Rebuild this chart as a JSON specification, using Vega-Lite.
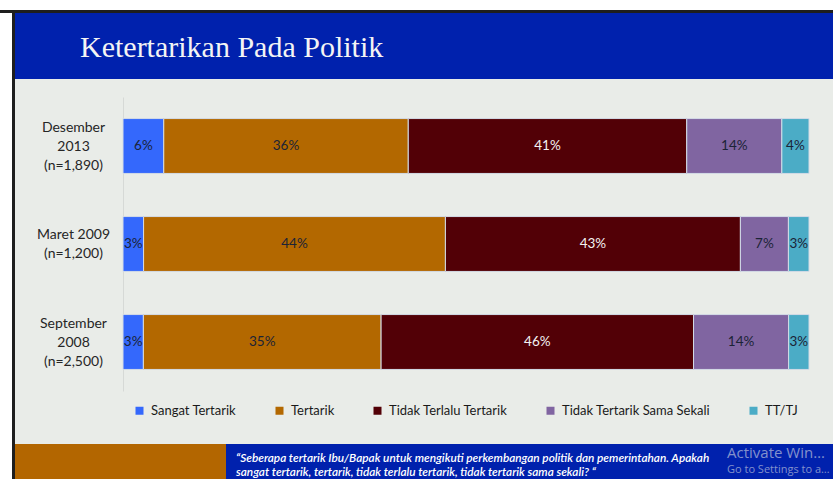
{
  "$schema": "https://vega.github.io/schema/vega-lite/v6.json",
  "background": "#E9ECE8",
  "padding": 0,
  "spacing": 0,
  "data": {"values": [{}]},
  "config": {
    "view": {"stroke": null},
    "concat": {"spacing": 0},
    "font": "Lato",
    "point": {"size": 0, "opacity": 0, "strokeWidth": 0}
  },
  "resolve": {"legend": {"color": "independent"}, "scale": {"color": "independent"}},
  "vconcat": [
    {"width": 833, "height": 10, "view": {"fill": "#FFFFFF", "stroke": null}, "mark": "point", "encoding": {}},
    {"width": 833, "height": 3, "view": {"fill": "#1E1E1E", "stroke": null}, "mark": "point", "encoding": {}},
    {
      "spacing": 0,
      "resolve": {"legend": {"color": "independent"}, "scale": {"color": "independent"}},
      "hconcat": [
        {"width": 12, "height": 466, "view": {"fill": "#FFFFFF", "stroke": null}, "mark": "point", "encoding": {}},
        {"width": 3, "height": 466, "view": {"fill": "#1E1E1E", "stroke": null}, "mark": "point", "encoding": {}},
        {
          "spacing": 0,
          "resolve": {"legend": {"color": "independent"}, "scale": {"color": "independent"}},
          "vconcat": [
            {
              "width": 818, "height": 66,
              "view": {"fill": "#0021AD", "stroke": null},
              "title": {"text": "Ketertarikan Pada Politik", "anchor": "start", "orient": "top", "frame": "group", "offset": -74, "dx": 65, "baseline": "alphabetic", "font": "Liberation Serif", "fontSize": 30, "fontWeight": "normal", "color": "#F4F4F4"},
              "mark": "point", "encoding": {}
            },
            {"width": 818, "height": 18, "mark": "point", "encoding": {}},
            {
              "spacing": 0,
              "resolve": {"legend": {"color": "independent"}, "scale": {"color": "independent"}},
              "hconcat": [
                {"width": 21, "height": 10, "mark": "point", "encoding": {}},
                {
                  "width": 686, "height": 294,
                  "data": {"values": [
                    {"p": "Desember|2013|(n=1,890)", "cat": "Sangat Tertarik", "o": 1, "v": 0.06},
                    {"p": "Desember|2013|(n=1,890)", "cat": "Tertarik", "o": 2, "v": 0.36},
                    {"p": "Desember|2013|(n=1,890)", "cat": "Tidak Terlalu Tertarik", "o": 3, "v": 0.41},
                    {"p": "Desember|2013|(n=1,890)", "cat": "Tidak Tertarik Sama Sekali", "o": 4, "v": 0.14},
                    {"p": "Desember|2013|(n=1,890)", "cat": "TT/TJ", "o": 5, "v": 0.04},
                    {"p": "Maret 2009|(n=1,200)", "cat": "Sangat Tertarik", "o": 1, "v": 0.03},
                    {"p": "Maret 2009|(n=1,200)", "cat": "Tertarik", "o": 2, "v": 0.44},
                    {"p": "Maret 2009|(n=1,200)", "cat": "Tidak Terlalu Tertarik", "o": 3, "v": 0.43},
                    {"p": "Maret 2009|(n=1,200)", "cat": "Tidak Tertarik Sama Sekali", "o": 4, "v": 0.07},
                    {"p": "Maret 2009|(n=1,200)", "cat": "TT/TJ", "o": 5, "v": 0.03},
                    {"p": "September|2008|(n=2,500)", "cat": "Sangat Tertarik", "o": 1, "v": 0.03},
                    {"p": "September|2008|(n=2,500)", "cat": "Tertarik", "o": 2, "v": 0.35},
                    {"p": "September|2008|(n=2,500)", "cat": "Tidak Terlalu Tertarik", "o": 3, "v": 0.46},
                    {"p": "September|2008|(n=2,500)", "cat": "Tidak Tertarik Sama Sekali", "o": 4, "v": 0.14},
                    {"p": "September|2008|(n=2,500)", "cat": "TT/TJ", "o": 5, "v": 0.03}
                  ]},
                  "encoding": {
                    "y": {
                      "field": "p", "type": "nominal", "sort": null,
                      "scale": {"paddingInner": 0.44, "paddingOuter": 0.22},
                      "axis": {"title": null, "domainColor": "#D6D9D6", "domainWidth": 1, "ticks": false, "tickSize": 0, "labelAlign": "center", "labelBaseline": "middle", "labelPadding": 50, "labelFont": "Lato", "labelFontSize": 14, "labelColor": "#262626", "labelLineHeight": 19, "labelExpr": "split(datum.label, '|')",
                        "labelOffset": {"condition": {"test": "indexof(datum.value, 'Maret') === 0", "value": -9}, "value": -18}}
                    }
                  },
                  "layer": [
                    {
                      "mark": {"type": "bar", "stroke": "#D3DBE6", "strokeWidth": 1},
                      "encoding": {
                        "x": {"field": "v", "type": "quantitative", "stack": "normalize", "axis": null, "scale": {"nice": false}},
                        "color": {
                          "field": "cat", "type": "nominal",
                          "scale": {"domain": ["Sangat Tertarik", "Tertarik", "Tidak Terlalu Tertarik", "Tidak Tertarik Sama Sekali", "TT/TJ"], "range": ["#3468FC", "#B36800", "#520006", "#8065A1", "#4BACC6"]},
                          "legend": {"title": null, "orient": "none", "legendX": 10, "legendY": 307, "direction": "horizontal", "symbolType": "square", "symbolSize": 64, "symbolStrokeWidth": 0, "symbolOpacity": 1, "labelFont": "Lato", "labelFontSize": 13, "labelColor": "#1A1A1A", "labelOffset": 5, "columnPadding": 36, "padding": 0}
                        },
                        "order": {"field": "o"}
                      }
                    },
                    {
                      "mark": {"type": "text", "font": "Lato", "fontSize": 13.5},
                      "encoding": {
                        "x": {"field": "v", "type": "quantitative", "stack": "normalize", "bandPosition": 0.5},
                        "detail": {"field": "cat"},
                        "order": {"field": "o"},
                        "text": {"field": "v", "format": ".0%"},
                        "color": {"condition": {"test": "datum.cat === 'Tidak Terlalu Tertarik'", "value": "#F2F2F2"}, "value": "#1B2336"}
                      }
                    }
                  ]
                }
              ]
            },
            {"width": 818, "height": 26, "mark": "point", "encoding": {}},
            {
              "spacing": 0,
              "hconcat": [
                {"width": 211, "height": 36, "view": {"fill": "#B36600", "stroke": null}, "mark": "point", "encoding": {}},
                {
                  "width": 499, "height": 36,
                  "view": {"fill": "#0021AD", "stroke": null},
                  "title": {"text": ["“Seberapa tertarik Ibu/Bapak untuk mengikuti perkembangan politik dan pemerintahan. Apakah", "sangat tertarik, tertarik, tidak  terlalu tertarik, tidak tertarik sama sekali? “"], "anchor": "start", "orient": "top", "frame": "group", "offset": -35, "dx": 10, "baseline": "top", "font": "Lato", "fontSize": 11.8, "fontStyle": "italic", "fontWeight": 600, "lineHeight": 14, "color": "#FFFFFF"},
                  "mark": "point", "encoding": {}
                },
                {
                  "width": 108, "height": 36,
                  "view": {"fill": "#0021AD", "stroke": null},
                  "title": {"text": "Activate Windows", "subtitle": "Go to Settings to activate Windows.", "anchor": "start", "orient": "top", "frame": "group", "offset": -31, "dx": 2, "baseline": "top", "font": "Open Sans", "fontSize": 15, "fontWeight": "normal", "color": "#8391CC", "subtitleFont": "Open Sans", "subtitleFontSize": 11, "subtitleColor": "#8391CC", "subtitlePadding": 3, "limit": 106},
                  "mark": "point", "encoding": {}
                }
              ]
            }
          ]
        }
      ]
    }
  ]
}
